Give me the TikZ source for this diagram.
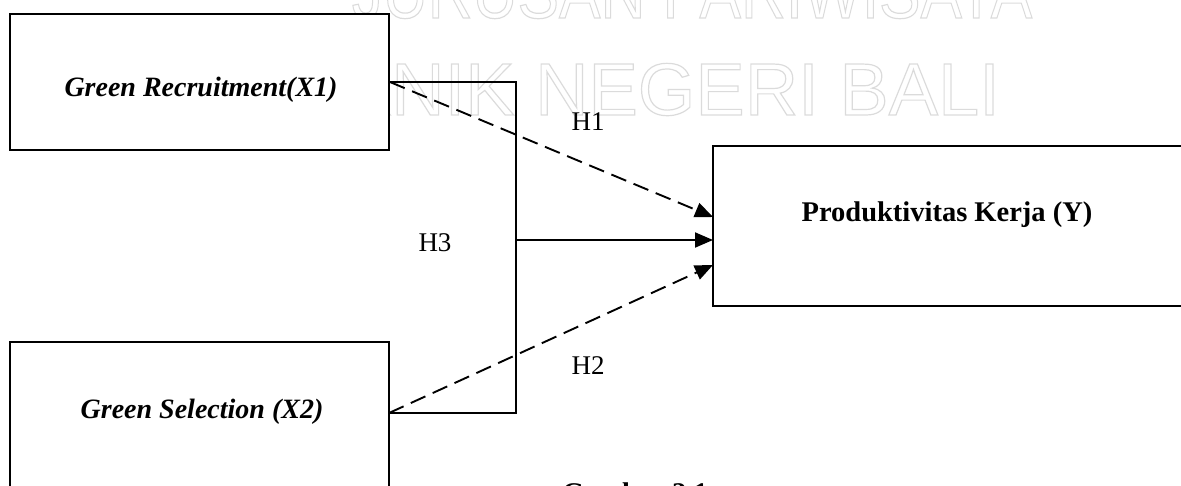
\documentclass[tikz,border=0pt]{standalone}
\usepackage{fontspec}
\setmainfont{Liberation Serif}
\newfontfamily\wmfont{Liberation Sans}
\usetikzlibrary{arrows.meta}
\newcommand{\outlinetext}[1]{\special{pdf:literal direct 1 Tr 1.2 w 0.86 0.86 0.86 RG}#1\special{pdf:literal direct 0 Tr}}
\begin{document}
\begin{tikzpicture}[x=1pt,y=-1pt,
  box/.style={draw=black, line width=1.9pt, fill=white, inner sep=0pt},
  itl/.style={inner sep=0pt, font=\fontsize{28}{32}\selectfont\bfseries\itshape},
  bld/.style={inner sep=0pt, font=\fontsize{28.5}{32}\selectfont\bfseries},
  hlbl/.style={inner sep=0pt, font=\fontsize{27}{30}\selectfont},
  wm/.style={inner sep=0pt, text=white, font=\wmfont\fontsize{74}{80}\selectfont},
  conn/.style={line width=1.9pt},
  dashconn/.style={line width=1.9pt, dash pattern=on 16pt off 8pt},
  tip/.style={-{Triangle[length=18pt,width=15pt]}}
]
\useasboundingbox (0,0) rectangle (1181,485);
\clip (0,0) rectangle (1181,485);

% watermark
\node[wm, anchor=base east] (wm1) at (1000,115) {\outlinetext{POLITEKNIK NEGERI BALI}};
\node[wm, anchor=base, xscale=0.84] (wm2) at (692,18) {\outlinetext{JURUSAN PARIWISATA}};

% boxes
\node[box, minimum width=379pt, minimum height=136pt] (x1) at (199.5,82) {};
\node[box, minimum width=379pt, minimum height=178pt] (x2) at (199.5,431) {};
\node[box, minimum width=490pt, minimum height=160pt] (y) at (958,226) {};

% texts
\node[itl] (x1t) at (201,90) {Green Recruitment(X1)};
\node[itl] (x2t) at (202,412) {Green Selection (X2)};
\node[bld] (yt) at (947,215) {Produktivitas Kerja (Y)};
\node[hlbl] (h1) at (588,122) {H1};
\node[hlbl] (h3) at (435,243) {H3};
\node[hlbl] (h2) at (588,366) {H2};
\node[bld, anchor=base] (cap) at (635,502) {Gambar 2.1};

% connector points
\coordinate (p1) at (x1.east);
\coordinate (p2) at (389,413);
\coordinate (v1) at (516,82);
\coordinate (v2) at (516,413);
\coordinate (vm) at (516,240);
\coordinate (e1) at (713,217);
\coordinate (e2) at (713,240);
\coordinate (e3) at (713,265);

\draw[conn] (p1) -- (v1) -- (v2) -- (p2);
\draw[conn,tip] (vm) -- (e2);
\draw[dashconn,tip] (p1) -- (e1);
\draw[dashconn,tip] (p2) -- (e3);
\end{tikzpicture}
\end{document}
